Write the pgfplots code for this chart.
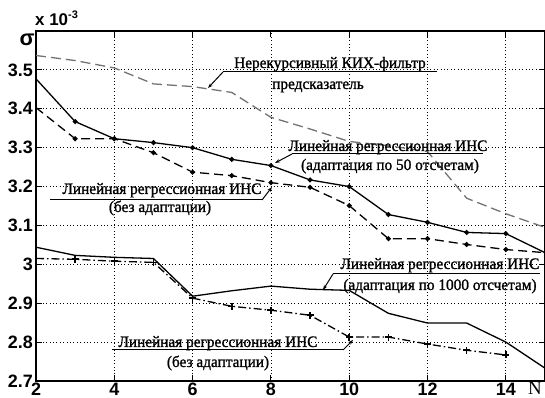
\documentclass[border=0pt]{standalone}
\usepackage{fontspec}
\setmainfont{Liberation Sans}
\newfontfamily\annfont[FakeBold=1.2,FakeStretch=0.96]{Liberation Serif}
\newfontfamily\nfont{Liberation Serif}
\usepackage{pgfplots}
\pgfplotsset{compat=1.18}
\usetikzlibrary{arrows.meta,calc}
\begin{document}
\begin{tikzpicture}
\begin{axis}[
  name=ax,
  scale only axis,
  width=509bp, height=350bp,
  xmin=2, xmax=15, ymin=2.7, ymax=3.6,
  xtick={2,4,...,14},
  ytick={2.7,2.8,2.9,3.0,3.1,3.2,3.3,3.4,3.5},
  /pgf/number format/assume math mode=true,
  ticklabel style={font=\fontsize{18}{18}\selectfont\bfseries},
  xticklabel style={inner sep=1.5bp},
  yticklabel style={inner sep=3bp},
  tick align=inside,
  major tick length=6bp,
  tick style={black, line width=0.9bp},
  axis line style={black, line width=1.2bp},
  grid=major,
  major grid style={black, line width=0.8bp, dash pattern=on 0.8bp off 2.6bp},
  clip=false,
]
% FIR filter (gray dashed)
\addplot[black!55, line width=1.3bp, dash pattern=on 10bp off 5bp] coordinates {
(2,3.537)(3,3.524)(4,3.505)(5,3.464)(6,3.457)(7,3.442)(8,3.378)(9,3.348)(10,3.316)(11,3.305)(12,3.29)(13,3.17)(14,3.13)(15,3.095)};
% Linear regression, adaptation 50 (solid, dots)
\addplot[black, line width=1.3bp, mark=*, mark size=1.8bp, mark indices={2,3,4,5,6,7,8,9,10,11,12,13}] coordinates {
(2,3.477)(3,3.367)(4,3.323)(5,3.313)(6,3.300)(7,3.270)(8,3.254)(9,3.217)(10,3.200)(11,3.128)(12,3.108)(13,3.082)(14,3.079)(15,3.030)};
% Linear regression, no adaptation (black dashed, dots)
\addplot[black, line width=1.3bp, dash pattern=on 9bp off 5bp, mark=*, mark size=1.8bp, mark options={solid}, mark indices={2,3,4,5,6,7,8,9,10,11,12,13}] coordinates {
(2,3.403)(3,3.323)(4,3.323)(5,3.287)(6,3.237)(7,3.228)(8,3.210)(9,3.198)(10,3.151)(11,3.066)(12,3.066)(13,3.051)(14,3.038)(15,3.030)};
% Linear regression, adaptation 1000 (solid)
\addplot[black, line width=1.3bp] coordinates {
(2,3.044)(3,3.023)(4,3.018)(5,3.015)(6,2.918)(7,2.932)(8,2.944)(9,2.936)(10,2.933)(11,2.874)(12,2.849)(13,2.849)(14,2.800)(15,2.733)};
% Linear regression, no adaptation (dash-dot, plus marks)
\addplot[black, line width=1.3bp, dash pattern=on 8bp off 3bp on 1.5bp off 3bp, mark=+, mark size=3.5bp, mark options={solid, line width=1.6bp}, mark indices={2,3,4,5,6,7,8,9,10,11,12,13}] coordinates {
(2,3.015)(3,3.013)(4,3.008)(5,3.005)(6,2.913)(7,2.892)(8,2.882)(9,2.869)(10,2.813)(11,2.813)(12,2.795)(13,2.779)(14,2.767)};
\end{axis}
% annotations in pixel coordinates of the reference
\begin{scope}[shift={($(ax.north west)+(-36bp,31bp)$)}, x=1bp, y=-1bp]
  \tikzset{ann/.style={font=\annfont\fontsize{16}{17}\selectfont, inner sep=0pt, anchor=base},
           lead/.style={black, line width=1bp},
           arr/.style={black, line width=1bp, -{Stealth[length=5bp,width=3.5bp]}}}
  % 1
  \node[ann] at (330,68) {Нерекурсивный КИХ-фильтр};
  \node[ann] at (318,89) {предсказатель};
  \draw[lead] (437,72) -- (223,72);
  \draw[arr] (223,72) -- (208,88);
  % 2
  \node[ann] at (388,151) {Линейная регрессионная ИНС};
  \node[ann] at (390,170) {(адаптация по 50 отсчетам)};
  \draw[lead] (483,154) -- (292,154);
  \draw[arr] (292,154) -- (275,163);
  % 3
  \node[ann] at (162,194) {Линейная регрессионная ИНС};
  \node[ann] at (160,212) {(без адаптации)};
  \draw[lead] (50,200) -- (262,200);
  \draw[arr] (262,200) -- (272,187);
  % 4
  \node[ann] at (440,269) {Линейная регрессионная ИНС};
  \node[ann] at (440,290) {(адаптация по 1000 отсчетам)};
  \draw[lead] (540,274) -- (333,274);
  \draw[arr] (333,274) -- (323,290);
  % 5
  \node[ann] at (218,347) {Линейная регрессионная ИНС};
  \node[ann] at (218,367) {(без адаптации)};
  \draw[lead] (112,350) -- (343,350);
  \draw[arr] (343,350) -- (353,340);
  % axis extras
  \node[font=\fontsize{22}{22}\selectfont\bfseries, inner sep=0pt] at (27,40) {σ};
  \node[font=\fontsize{17}{17}\selectfont\bfseries, inner sep=0pt, anchor=base west] at (35,26) {x 10\raisebox{7bp}{\fontsize{11}{11}\selectfont -3}};
  \node[font=\nfont\fontsize{19}{19}\selectfont, inner sep=0pt, anchor=base] at (535,395) {N};
\end{scope}
\pgfresetboundingbox
\path[use as bounding box] ($(ax.south west)+(-36bp,-17bp)$) rectangle ($(ax.north east)+(0bp,31bp)$);
\end{tikzpicture}
\end{document}
